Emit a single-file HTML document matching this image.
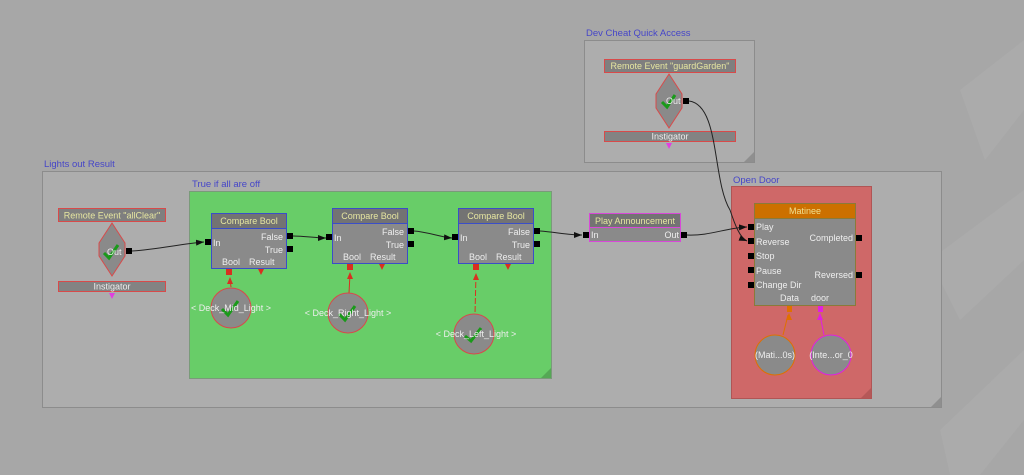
<!DOCTYPE html>
<html><head><meta charset="utf-8"><style>
html,body{margin:0;padding:0;background:#a7a7a7;}
svg{display:block;}
text{font-family:"Liberation Sans",sans-serif;font-size:9px;}
.lbl{fill:#4646c8;font-size:9.5px;}
.t{fill:#e6e6a0;text-anchor:middle;}
.w{fill:#eeeeee;}
.p{fill:#000;}
.wire{fill:none;stroke:#222;stroke-width:1;}
</style></head><body>
<svg width="1024" height="475" viewBox="0 0 1024 475" xmlns="http://www.w3.org/2000/svg">
<defs>
<marker id="ah" markerWidth="8" markerHeight="6" refX="8" refY="3" orient="auto" markerUnits="userSpaceOnUse"><path d="M0,0 L8,3 L0,6z" fill="#111"/></marker>
</defs>
<rect width="1024" height="475" fill="#a7a7a7"/>
<g fill="#b0b0b0" opacity="0.5">
<path d="M960,90 L1024,40 L1024,110 L985,160z"/>
<path d="M930,260 L1024,190 L1024,260 L960,320z"/>
<path d="M940,430 L1024,350 L1024,420 L980,475 L950,475z"/>
</g>

<text x="586" y="36" class="lbl">Dev Cheat Quick Access</text>
<rect x="584.5" y="40.5" width="170" height="122" fill="#adadad" stroke="#8c8c8c"/>
<path d="M754,152 L754,162 L744,162z" fill="#8f8f8f"/>
<rect x="604.5" y="59.5" width="131" height="13" fill="#7f7f7f" stroke="#d84a4a"/>
<text x="670" y="69" class="t">Remote Event "guardGarden"</text>
<polygon points="669,74 682,94 682,108 669,128 656,108 656,94" fill="#8a8a8a" stroke="#d84a4a"/>
<path d="M662,102 L667,107 L675,95" stroke="#1a9a1a" stroke-width="3" fill="none"/>
<text x="666" y="104" class="w">Out</text>
<rect x="683" y="98" width="6" height="6" class="p"/>
<rect x="604.5" y="131.5" width="131" height="10" fill="#838383" stroke="#d84a4a"/>
<text x="670" y="139.5" class="w" text-anchor="middle">Instigator</text>
<path d="M666,143 L672,143 L669,149z" fill="#e040e0"/>

<text x="44" y="167" class="lbl">Lights out Result</text>
<rect x="42.5" y="171.5" width="899" height="236" fill="#adadad" stroke="#8c8c8c"/>
<path d="M941,397 L941,407 L931,407z" fill="#8f8f8f"/>

<text x="192" y="187" class="lbl">True if all are off</text>
<rect x="189.5" y="191.5" width="362" height="187" fill="#68cd68" stroke="#7a9a7a"/>
<path d="M551,368 L551,378 L541,378z" fill="#55a855"/>

<text x="733" y="183" class="lbl">Open Door</text>
<rect x="731.5" y="186.5" width="140" height="212" fill="#cf6868" stroke="#b05555"/>
<path d="M871,388 L871,398 L861,398z" fill="#b55858"/>

<rect x="58.5" y="208.5" width="107" height="13" fill="#7f7f7f" stroke="#d84a4a"/>
<text x="112" y="218.5" class="t">Remote Event "allClear"</text>
<polygon points="112,223 125,243 125,256 112,276 99,256 99,243" fill="#8a8a8a" stroke="#d84a4a"/>
<path d="M104,253 L109,258 L118,245" stroke="#1a9a1a" stroke-width="3" fill="none"/>
<text x="107" y="255" class="w">Out</text>
<rect x="126" y="248" width="6" height="6" class="p"/>
<rect x="58.5" y="281.5" width="107" height="10" fill="#838383" stroke="#d84a4a"/>
<text x="112" y="289.5" class="w" text-anchor="middle">Instigator</text>
<path d="M109,293 L115,293 L112,299z" fill="#e040e0"/>

<g>
<rect x="211.5" y="213.5" width="75" height="55" fill="#8a8a8a"/>
<rect x="212" y="214" width="74" height="14" fill="#737373"/>
<rect x="211.5" y="213.5" width="75" height="55" fill="none" stroke="#3a4ec8"/>
<line x1="211.5" y1="228.5" x2="286.5" y2="228.5" stroke="#3a4ec8"/>
<text x="249" y="224" class="t">Compare Bool</text>
<text x="213" y="246" class="w">In</text>
<text x="283" y="240" class="w" text-anchor="end">False</text>
<text x="283" y="253" class="w" text-anchor="end">True</text>
<text x="222" y="265" class="w">Bool</text>
<text x="249" y="265" class="w">Result</text>
<rect x="205" y="239" width="6" height="6" class="p"/>
<rect x="287" y="233" width="6" height="6" class="p"/>
<rect x="287" y="246" width="6" height="6" class="p"/>
<rect x="226" y="269" width="6" height="6" fill="#d83020"/>
<path d="M258,269 L264,269 L261,275z" fill="#d83020"/>
</g>
<g transform="translate(121,-5)">
<rect x="211.5" y="213.5" width="75" height="55" fill="#8a8a8a"/>
<rect x="212" y="214" width="74" height="14" fill="#737373"/>
<rect x="211.5" y="213.5" width="75" height="55" fill="none" stroke="#3a4ec8"/>
<line x1="211.5" y1="228.5" x2="286.5" y2="228.5" stroke="#3a4ec8"/>
<text x="249" y="224" class="t">Compare Bool</text>
<text x="213" y="246" class="w">In</text>
<text x="283" y="240" class="w" text-anchor="end">False</text>
<text x="283" y="253" class="w" text-anchor="end">True</text>
<text x="222" y="265" class="w">Bool</text>
<text x="249" y="265" class="w">Result</text>
<rect x="205" y="239" width="6" height="6" class="p"/>
<rect x="287" y="233" width="6" height="6" class="p"/>
<rect x="287" y="246" width="6" height="6" class="p"/>
<rect x="226" y="269" width="6" height="6" fill="#d83020"/>
<path d="M258,269 L264,269 L261,275z" fill="#d83020"/>
</g>
<g transform="translate(247,-5)">
<rect x="211.5" y="213.5" width="75" height="55" fill="#8a8a8a"/>
<rect x="212" y="214" width="74" height="14" fill="#737373"/>
<rect x="211.5" y="213.5" width="75" height="55" fill="none" stroke="#3a4ec8"/>
<line x1="211.5" y1="228.5" x2="286.5" y2="228.5" stroke="#3a4ec8"/>
<text x="249" y="224" class="t">Compare Bool</text>
<text x="213" y="246" class="w">In</text>
<text x="283" y="240" class="w" text-anchor="end">False</text>
<text x="283" y="253" class="w" text-anchor="end">True</text>
<text x="222" y="265" class="w">Bool</text>
<text x="249" y="265" class="w">Result</text>
<rect x="205" y="239" width="6" height="6" class="p"/>
<rect x="287" y="233" width="6" height="6" class="p"/>
<rect x="287" y="246" width="6" height="6" class="p"/>
<rect x="226" y="269" width="6" height="6" fill="#d83020"/>
<path d="M258,269 L264,269 L261,275z" fill="#d83020"/>
</g>

<line x1="230" y1="279" x2="231" y2="287" stroke="#d83020"/>
<path d="M227,284 L233,284 L230,277z" fill="#d83020"/>
<circle cx="231" cy="308" r="20" fill="#8a8a8a" stroke="#d84a4a"/>
<path d="M222,309 L228,315 L238,301" stroke="#1a9a1a" stroke-width="3" fill="none"/>
<text x="231" y="311" class="w" text-anchor="middle">&lt; Deck_Mid_Light &gt;</text>

<line x1="350" y1="274" x2="349" y2="293" stroke="#d83020"/>
<path d="M347,279 L353,279 L350,272z" fill="#d83020"/>
<circle cx="348" cy="313" r="20" fill="#8a8a8a" stroke="#d84a4a"/>
<path d="M339,314 L345,320 L355,306" stroke="#1a9a1a" stroke-width="3" fill="none"/>
<text x="348" y="316" class="w" text-anchor="middle">&lt; Deck_Right_Light &gt;</text>

<line x1="476" y1="274" x2="475" y2="314" stroke="#d83020" stroke-dasharray="6,2"/>
<path d="M473,280 L479,280 L476,273z" fill="#d83020"/>
<circle cx="474" cy="334" r="20" fill="#8a8a8a" stroke="#d84a4a"/>
<path d="M465,336 L471,341 L481,328" stroke="#1a9a1a" stroke-width="3" fill="none"/>
<text x="476" y="337" class="w" text-anchor="middle">&lt; Deck_Left_Light &gt;</text>

<rect x="589.5" y="213.5" width="91" height="28" fill="#8a8a8a"/>
<rect x="590" y="214" width="90" height="13" fill="#737373"/>
<rect x="589.5" y="213.5" width="91" height="28" fill="none" stroke="#d848d8"/>
<line x1="589.5" y1="227.5" x2="680.5" y2="227.5" stroke="#d848d8"/>
<text x="635" y="224" class="t">Play Announcement</text>
<text x="591" y="238" class="w">In</text>
<text x="679" y="238" class="w" text-anchor="end">Out</text>
<rect x="583" y="232" width="6" height="6" class="p"/>
<rect x="681" y="232" width="6" height="6" class="p"/>

<rect x="754.5" y="203.5" width="101" height="102" fill="#8a8a8a" stroke="#8a7a3a"/>
<rect x="755" y="204" width="100" height="14" fill="#cc7000"/>
<line x1="754.5" y1="218.5" x2="855.5" y2="218.5" stroke="#8a7a3a"/>
<text x="805" y="214" class="t" style="fill:#f0e090">Matinee</text>
<text x="756" y="230" class="w">Play</text>
<text x="756" y="245" class="w">Reverse</text>
<text x="756" y="259" class="w">Stop</text>
<text x="756" y="274" class="w">Pause</text>
<text x="756" y="288" class="w">Change Dir</text>
<text x="853" y="241" class="w" text-anchor="end">Completed</text>
<text x="853" y="278" class="w" text-anchor="end">Reversed</text>
<text x="780" y="301" class="w">Data</text>
<text x="811" y="301" class="w">door</text>
<rect x="748" y="224" width="6" height="6" class="p"/>
<rect x="748" y="238" width="6" height="6" class="p"/>
<rect x="748" y="253" width="6" height="6" class="p"/>
<rect x="748" y="267" width="6" height="6" class="p"/>
<rect x="748" y="282" width="6" height="6" class="p"/>
<rect x="856" y="235" width="6" height="6" class="p"/>
<rect x="856" y="272" width="6" height="6" class="p"/>
<rect x="787" y="306" width="5" height="6" fill="#e07000"/>
<rect x="818" y="306" width="5" height="6" fill="#e020e0"/>
<line x1="788" y1="315" x2="783" y2="335" stroke="#e07000"/>
<path d="M786,320 L792,320 L789,313z" fill="#e07000"/>
<line x1="820" y1="315" x2="824" y2="335" stroke="#e020e0"/>
<path d="M817,320 L823,320 L820,313z" fill="#e020e0"/>
<circle cx="775" cy="355" r="20" fill="#8a8a8a" stroke="#e07000"/>
<text x="775" y="358" class="w" text-anchor="middle">(Mati...0s)</text>
<circle cx="831" cy="355" r="20" fill="#8a8a8a" stroke="#e020e0"/>
<text x="831" y="358" class="w" text-anchor="middle">(Inte...or_0</text>

<path class="wire" d="M132,251 C160,249 180,244 204,242" marker-end="url(#ah)"/>
<path class="wire" d="M293,236 C305,236 315,238 326,238" marker-end="url(#ah)"/>
<path class="wire" d="M414,231 C428,232 440,237 452,238" marker-end="url(#ah)"/>
<path class="wire" d="M540,231 C555,232 568,235 582,235" marker-end="url(#ah)"/>
<path class="wire" d="M687,235 C710,236 725,228 747,227" marker-end="url(#ah)"/>
<path class="wire" d="M689,101 C720,105 712,180 730,210 C735,225 740,238 747,241" marker-end="url(#ah)"/>
</svg>
</body></html>
